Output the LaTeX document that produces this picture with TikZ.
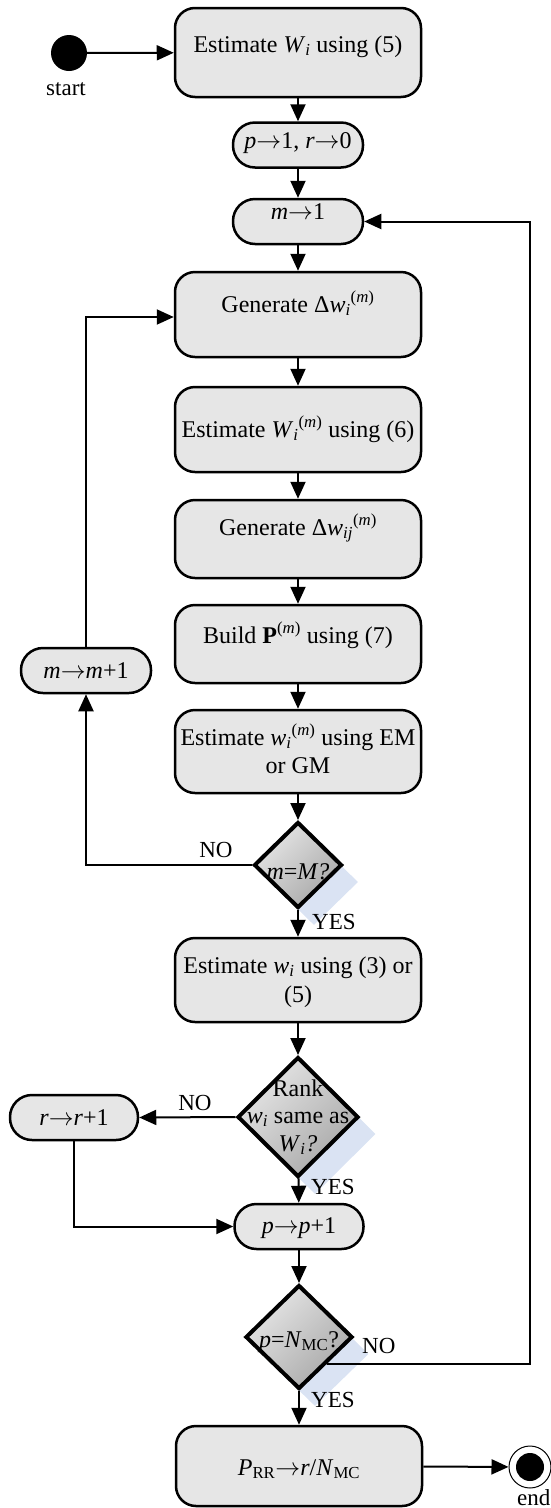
\documentclass[tikz,border=0pt]{standalone}
\usepackage{fontspec}
\setmainfont{Liberation Serif}
\usetikzlibrary{arrows.meta,shapes.geometric,calc}
\definecolor{boxfill}{HTML}{E6E6E6}
\definecolor{dlight}{HTML}{E6E6E6}
\definecolor{ddark}{HTML}{A8A8A8}
\definecolor{shadowblue}{HTML}{DAE3F3}
\newcommand{\itv}[1]{\textit{#1}}
\newcommand{\lowidx}[1]{\textsubscript{#1}}
\newcommand{\stackidx}[2]{\textsubscript{#1}\textsuperscript{#2}}
\newcommand{\toarr}{\ensuremath{\rightarrow}}
\begin{document}
\begin{tikzpicture}[x=1pt,y=-1pt,
  font=\fontsize{24}{28}\selectfont,
  box/.style={draw, line width=2.5pt, fill=boxfill, rounded corners=20pt,
    minimum width=246pt, inner sep=0pt},
  pill/.style={draw, line width=2.5pt, fill=boxfill, rounded corners=22pt,
    minimum width=130pt, minimum height=45pt, inner sep=0pt},
  txt/.style={anchor=base, inner sep=0pt},
  lbl/.style={anchor=base, inner sep=0pt, font=\fontsize{23}{27}\selectfont},
  dec/.style={diamond, draw, line width=4pt, top color=dlight, bottom color=ddark,
    shading angle=45, inner sep=0pt},
  shd/.style={diamond, fill=shadowblue, inner sep=0pt},
  conn/.style={line width=2pt, -{Triangle[length=17pt,width=15pt]}},
]
\useasboundingbox (0,0) rectangle (550,1508);

% drop shadows of the decisions
\node[shd, minimum width=88pt, minimum height=86pt] (d1s) at (314,882) {};
\node[shd, minimum width=121pt, minimum height=120pt] (d2s) at (315,1134) {};
\node[shd, minimum width=107pt, minimum height=104pt] (d3s) at (315,1354) {};

% start
\node[circle, fill=black, minimum size=36pt, inner sep=0pt] (start) at (69,53) {};
\node[lbl] (startlbl) at (66,95) {start};

% main column
\node[box, minimum height=89pt] (b1) at (298,52.5) {};
\node[txt] (t1) at (298,52) {Estimate \itv{W}\lowidx{\itv{i}} using (5)};

\node[pill] (b2) at (298,145) {};
\node[txt] (t2) at (298,148) {\itv{p}\toarr1, \itv{r}\toarr0};

\node[pill] (b3) at (298,221.5) {};
\node[txt] (t3) at (298,219) {\itv{m}\toarr1};

\node[box, minimum height=85pt] (b4) at (298,314.5) {};
\node[txt] (t4) at (298,312) {Generate Δ\itv{w}\stackidx{\itv{i}}{(\itv{m})}};

\node[box, minimum height=85pt] (b5) at (298,429.5) {};
\node[txt] (t5) at (298,437) {Estimate \itv{W}\stackidx{\itv{i}}{(\itv{m})} using (6)};

\node[box, minimum height=78pt] (b6) at (298,539) {};
\node[txt] (t6) at (298,535) {Generate Δ\itv{w}\stackidx{\itv{ij}}{(\itv{m})}};

\node[box, minimum height=78pt] (b7) at (298,644) {};
\node[txt] (t7) at (298,643) {Build \textbf{P}\textsuperscript{(\itv{m})} using (7)};

\node[box, minimum height=83pt] (b8) at (298,751.5) {};
\node[txt] (t8a) at (298,745) {Estimate \itv{w}\stackidx{\itv{i}}{(\itv{m})} using EM};
\node[txt] (t8b) at (298,773) {or GM};

\node[dec, minimum width=88pt, minimum height=86pt] (d1) at (298,865) {};
\node[txt] (t9) at (298,879) {\itv{m}=\itv{M?}};

\node[box, minimum height=84pt] (b9) at (298,980) {};
\node[txt] (t10a) at (298,973) {Estimate \itv{w}\lowidx{\itv{i}} using (3) or};
\node[txt] (t10b) at (298,1002) {(5)};

\node[dec, minimum width=121pt, minimum height=120pt] (d2) at (298,1117) {};
\node[txt] (t11a) at (298,1096) {Rank};
\node[txt] (t11b) at (298,1123) {\itv{w}\lowidx{\itv{i}} same as};
\node[txt] (t11c) at (298,1151) {\itv{W}\lowidx{\itv{i}}\itv{?}};

\node[pill, minimum width=129pt] (b11) at (299,1226.5) {};
\node[txt] (t12) at (299,1233) {\itv{p}\toarr\itv{p}+1};

\node[dec, minimum width=107pt, minimum height=104pt] (d3) at (299,1337) {};
\node[txt] (t13) at (299,1347) {\itv{p}=\itv{N}\lowidx{MC}?};

\node[box, minimum height=80pt] (b12) at (299,1466) {};
\node[txt] (t14) at (299,1475) {\itv{P}\lowidx{RR}\toarr\itv{r}/\itv{N}\lowidx{MC}};

% side steps
\node[pill] (b13) at (86,670.5) {};
\node[txt] (t15) at (86,678) {\itv{m}\toarr\itv{m}+1};

\node[pill, minimum width=128pt] (b10) at (74,1117.5) {};
\node[txt] (t16) at (74,1125) {\itv{r}\toarr\itv{r}+1};

% end
\node[circle, draw, line width=1pt, fill=white, minimum size=42pt, inner sep=0pt] (endring) at (530,1467) {};
\node[circle, fill=black, minimum size=28pt, inner sep=0pt] (enddot) at (530,1467) {};
\node[lbl, anchor=base west] (endlbl) at (517,1505) {end};

% connectors
\draw[conn] (start) -- (b1);
\draw[conn] (b1) -- (b2);
\draw[conn] (b2) -- (b3);
\draw[conn] (b3) -- (b4);
\draw[conn] (b4) -- (b5);
\draw[conn] (b5) -- (b6);
\draw[conn] (b6) -- (b7);
\draw[conn] (b7) -- (b8);
\draw[conn] (b8) -- (d1);
\draw[conn] (d1) -- (b9);
\draw[conn] (d1.west) -| (b13.south);
\draw[conn] (b13.north) |- ($(b4.west)+(0,2.5)$);
\draw[conn] (b9) -- (d2);
\draw[conn] (d2.west) -- (b10.east);
\draw[conn] (d2) -- (b11);
\draw[conn] (b10.south) |- (b11.west);
\draw[conn] (b11) -- (d3);
\draw[conn] (d3) -- (b12);
\coordinate (d3out) at ($(d3.south)!0.5!(d3.east)$);
\coordinate (loopx) at (530,0);
\draw[conn] (d3out) -- (d3out -| loopx) -- (loopx |- b3.east) -- (b3.east);
\draw[conn] (b12) -- (endring);

% branch labels
\node[lbl] (no1) at (216,857) {NO};
\node[lbl, anchor=base west] (yes1) at (312,929) {YES};
\node[lbl] (no2) at (195,1110) {NO};
\node[lbl, anchor=base west] (yes2) at (311,1194) {YES};
\node[lbl, anchor=base west] (no3) at (362,1353) {NO};
\node[lbl, anchor=base west] (yes3) at (311,1407) {YES};
\end{tikzpicture}
\end{document}
